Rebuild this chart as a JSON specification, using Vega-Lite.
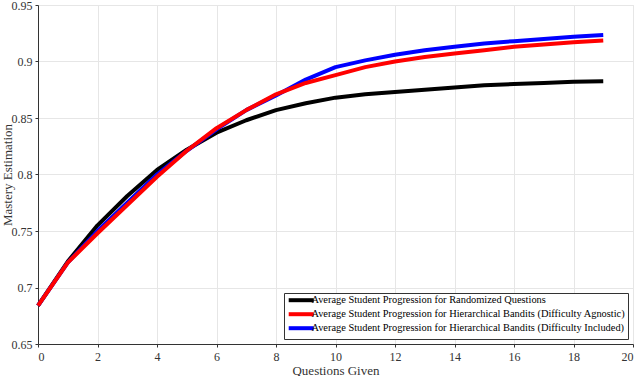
{
  "$schema": "https://vega.github.io/schema/vega-lite/v6.json",
  "width": 595,
  "height": 339,
  "autosize": {"type": "none"},
  "padding": {"left": 38, "top": 5, "right": 7, "bottom": 32},
  "background": "white",
  "config": {
    "view": {"stroke": "#e0e0e0", "strokeWidth": 1},
    "font": "Liberation Serif",
    "axis": {
      "labelFontSize": 12,
      "titleFontSize": 13,
      "titleFontWeight": "normal",
      "labelColor": "#333333",
      "titleColor": "#333333",
      "domainColor": "#333333",
      "tickColor": "#333333",
      "gridColor": "#e6e6e6",
      "gridWidth": 1,
      "tickSize": 3
    }
  },
  "data": {
    "values": [
      {"q": 0, "v": 0.684, "s": "Average Student Progression for Randomized Questions"},
      {"q": 1, "v": 0.723, "s": "Average Student Progression for Randomized Questions"},
      {"q": 2, "v": 0.755, "s": "Average Student Progression for Randomized Questions"},
      {"q": 3, "v": 0.781, "s": "Average Student Progression for Randomized Questions"},
      {"q": 4, "v": 0.804, "s": "Average Student Progression for Randomized Questions"},
      {"q": 5, "v": 0.822, "s": "Average Student Progression for Randomized Questions"},
      {"q": 6, "v": 0.837, "s": "Average Student Progression for Randomized Questions"},
      {"q": 7, "v": 0.848, "s": "Average Student Progression for Randomized Questions"},
      {"q": 8, "v": 0.857, "s": "Average Student Progression for Randomized Questions"},
      {"q": 9, "v": 0.863, "s": "Average Student Progression for Randomized Questions"},
      {"q": 10, "v": 0.868, "s": "Average Student Progression for Randomized Questions"},
      {"q": 11, "v": 0.871, "s": "Average Student Progression for Randomized Questions"},
      {"q": 12, "v": 0.873, "s": "Average Student Progression for Randomized Questions"},
      {"q": 13, "v": 0.875, "s": "Average Student Progression for Randomized Questions"},
      {"q": 14, "v": 0.877, "s": "Average Student Progression for Randomized Questions"},
      {"q": 15, "v": 0.879, "s": "Average Student Progression for Randomized Questions"},
      {"q": 16, "v": 0.880, "s": "Average Student Progression for Randomized Questions"},
      {"q": 17, "v": 0.881, "s": "Average Student Progression for Randomized Questions"},
      {"q": 18, "v": 0.882, "s": "Average Student Progression for Randomized Questions"},
      {"q": 19, "v": 0.8825, "s": "Average Student Progression for Randomized Questions"},
      {"q": 0, "v": 0.684, "s": "Average Student Progression for Hierarchical Bandits (Difficulty Included)"},
      {"q": 1, "v": 0.722, "s": "Average Student Progression for Hierarchical Bandits (Difficulty Included)"},
      {"q": 2, "v": 0.750, "s": "Average Student Progression for Hierarchical Bandits (Difficulty Included)"},
      {"q": 3, "v": 0.775, "s": "Average Student Progression for Hierarchical Bandits (Difficulty Included)"},
      {"q": 4, "v": 0.800, "s": "Average Student Progression for Hierarchical Bandits (Difficulty Included)"},
      {"q": 5, "v": 0.821, "s": "Average Student Progression for Hierarchical Bandits (Difficulty Included)"},
      {"q": 6, "v": 0.840, "s": "Average Student Progression for Hierarchical Bandits (Difficulty Included)"},
      {"q": 7, "v": 0.857, "s": "Average Student Progression for Hierarchical Bandits (Difficulty Included)"},
      {"q": 8, "v": 0.870, "s": "Average Student Progression for Hierarchical Bandits (Difficulty Included)"},
      {"q": 9, "v": 0.884, "s": "Average Student Progression for Hierarchical Bandits (Difficulty Included)"},
      {"q": 10, "v": 0.895, "s": "Average Student Progression for Hierarchical Bandits (Difficulty Included)"},
      {"q": 11, "v": 0.901, "s": "Average Student Progression for Hierarchical Bandits (Difficulty Included)"},
      {"q": 12, "v": 0.906, "s": "Average Student Progression for Hierarchical Bandits (Difficulty Included)"},
      {"q": 13, "v": 0.910, "s": "Average Student Progression for Hierarchical Bandits (Difficulty Included)"},
      {"q": 14, "v": 0.913, "s": "Average Student Progression for Hierarchical Bandits (Difficulty Included)"},
      {"q": 15, "v": 0.916, "s": "Average Student Progression for Hierarchical Bandits (Difficulty Included)"},
      {"q": 16, "v": 0.918, "s": "Average Student Progression for Hierarchical Bandits (Difficulty Included)"},
      {"q": 17, "v": 0.920, "s": "Average Student Progression for Hierarchical Bandits (Difficulty Included)"},
      {"q": 18, "v": 0.922, "s": "Average Student Progression for Hierarchical Bandits (Difficulty Included)"},
      {"q": 19, "v": 0.9235, "s": "Average Student Progression for Hierarchical Bandits (Difficulty Included)"},
      {"q": 0, "v": 0.684, "s": "Average Student Progression for Hierarchical Bandits (Difficulty Agnostic)"},
      {"q": 1, "v": 0.722, "s": "Average Student Progression for Hierarchical Bandits (Difficulty Agnostic)"},
      {"q": 2, "v": 0.748, "s": "Average Student Progression for Hierarchical Bandits (Difficulty Agnostic)"},
      {"q": 3, "v": 0.773, "s": "Average Student Progression for Hierarchical Bandits (Difficulty Agnostic)"},
      {"q": 4, "v": 0.798, "s": "Average Student Progression for Hierarchical Bandits (Difficulty Agnostic)"},
      {"q": 5, "v": 0.821, "s": "Average Student Progression for Hierarchical Bandits (Difficulty Agnostic)"},
      {"q": 6, "v": 0.841, "s": "Average Student Progression for Hierarchical Bandits (Difficulty Agnostic)"},
      {"q": 7, "v": 0.857, "s": "Average Student Progression for Hierarchical Bandits (Difficulty Agnostic)"},
      {"q": 8, "v": 0.871, "s": "Average Student Progression for Hierarchical Bandits (Difficulty Agnostic)"},
      {"q": 9, "v": 0.881, "s": "Average Student Progression for Hierarchical Bandits (Difficulty Agnostic)"},
      {"q": 10, "v": 0.888, "s": "Average Student Progression for Hierarchical Bandits (Difficulty Agnostic)"},
      {"q": 11, "v": 0.895, "s": "Average Student Progression for Hierarchical Bandits (Difficulty Agnostic)"},
      {"q": 12, "v": 0.900, "s": "Average Student Progression for Hierarchical Bandits (Difficulty Agnostic)"},
      {"q": 13, "v": 0.904, "s": "Average Student Progression for Hierarchical Bandits (Difficulty Agnostic)"},
      {"q": 14, "v": 0.907, "s": "Average Student Progression for Hierarchical Bandits (Difficulty Agnostic)"},
      {"q": 15, "v": 0.910, "s": "Average Student Progression for Hierarchical Bandits (Difficulty Agnostic)"},
      {"q": 16, "v": 0.913, "s": "Average Student Progression for Hierarchical Bandits (Difficulty Agnostic)"},
      {"q": 17, "v": 0.915, "s": "Average Student Progression for Hierarchical Bandits (Difficulty Agnostic)"},
      {"q": 18, "v": 0.917, "s": "Average Student Progression for Hierarchical Bandits (Difficulty Agnostic)"},
      {"q": 19, "v": 0.9185, "s": "Average Student Progression for Hierarchical Bandits (Difficulty Agnostic)"}
    ]
  },
  "mark": {"type": "line", "strokeWidth": 4, "strokeCap": "butt", "strokeJoin": "round"},
  "encoding": {
    "x": {
      "field": "q", "type": "quantitative",
      "scale": {"domain": [0, 20], "nice": false},
      "axis": {
        "values": [0, 2, 4, 6, 8, 10, 12, 14, 16, 18, 20],
        "title": "Questions Given",
        "labelFont": "Liberation Serif",
        "titleFont": "Liberation Serif",
        "labelPadding": 4,
        "titleY": 20,
        "titleBaseline": "top"
      }
    },
    "y": {
      "field": "v", "type": "quantitative",
      "scale": {"domain": [0.65, 0.95], "nice": false, "zero": false},
      "axis": {
        "values": [0.65, 0.7, 0.75, 0.8, 0.85, 0.9, 0.95],
        "format": "~g",
        "title": "Mastery Estimation",
        "labelFont": "Liberation Serif",
        "titleFont": "Liberation Serif",
        "labelPadding": 3,
        "titleX": -24,
        "titleBaseline": "bottom"
      }
    },
    "color": {
      "field": "s", "type": "nominal",
      "scale": {
        "domain": [
          "Average Student Progression for Randomized Questions",
          "Average Student Progression for Hierarchical Bandits (Difficulty Agnostic)",
          "Average Student Progression for Hierarchical Bandits (Difficulty Included)"
        ],
        "range": ["#000000", "#ff0000", "#0000ff"]
      },
      "legend": {
        "title": null,
        "orient": "bottom-right",
        "offset": 5,
        "labelFont": "Liberation Serif",
        "labelFontSize": 10.4,
        "labelColor": "#000000",
        "symbolType": "M-5,0H5",
        "symbolSize": 25,
        "symbolStrokeWidth": 4,
        "symbolOffset": 10,
        "labelOffset": 5,
        "rowPadding": -4.5,
        "padding": 2,
        "strokeColor": "#333333",
        "fillColor": "white",
        "labelLimit": 400
      }
    }
  }
}
